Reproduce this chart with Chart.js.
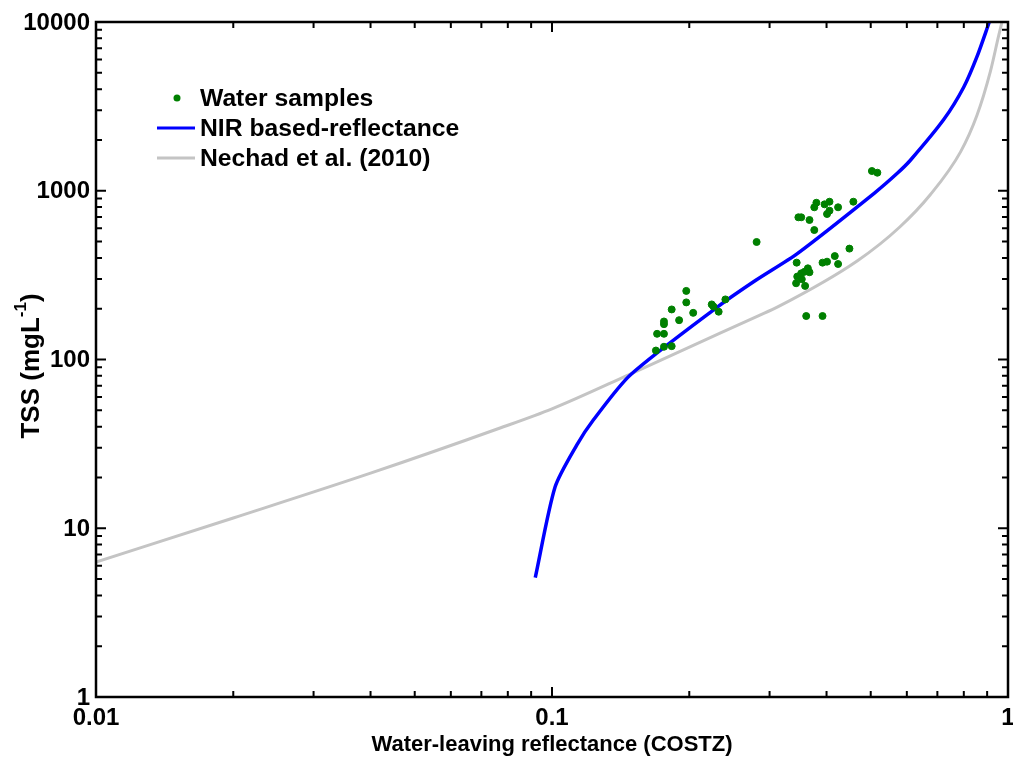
<!DOCTYPE html>
<html>
<head>
<meta charset="utf-8">
<script src="https://cdn.jsdelivr.net/npm/chart.js@4.4.1/dist/chart.umd.min.js"></script>
<style>
  body { margin: 0; background: #fff; }
  #wrap { width: 1013px; height: 765px; }
</style>
</head>
<body>
<div id="wrap"><canvas id="tssChart" width="1013" height="765"></canvas></div>
<script>
// tick labels
const xTicks = [0.01, 0.1, 1];
const xTickLabels = ["0.01", "0.1", "1"];
const yTicks = [1, 10, 100, 1000, 10000];
const yTickLabels = ["1", "10", "100", "1000", "10000"];

// water samples
const sampleX = [0.197, 0.197, 0.183, 0.204, 0.190, 0.176, 0.176, 0.224, 0.226, 0.240,
  0.232, 0.170, 0.176, 0.169, 0.176, 0.183, 0.281, 0.344, 0.449, 0.417,
  0.392, 0.401, 0.424, 0.364, 0.358, 0.352, 0.367, 0.345, 0.353, 0.343,
  0.359, 0.361, 0.392, 0.503, 0.517, 0.458, 0.424, 0.406, 0.396, 0.380,
  0.376, 0.406, 0.401, 0.347, 0.352, 0.367, 0.376];
const sampleY = [255, 218, 198, 189, 171, 168, 162, 212, 206, 227,
  192, 142, 142, 113, 119, 120, 497, 375, 454, 410,
  375, 380, 368, 347, 331, 324, 329, 310, 299, 283,
  273, 181, 181, 1309, 1279, 861, 798, 861, 831, 849,
  798, 762, 728, 696, 696, 671, 585];

// NIR based-reflectance curve
const nirX = [0.0919, 0.1016, 0.1133, 0.1232, 0.1485, 0.2312, 0.2804, 0.3457,
  0.5087, 0.5717, 0.6115, 0.7235, 0.800, 0.855, 0.910];
const nirY = [5.1, 17.6, 31.1, 43.8, 81, 206, 296, 426,
  966, 1269, 1521, 2650, 4120, 6230, 10000];

// Nechad et al. (2010) curve
const nechadX = [0.01, 0.02, 0.04, 0.0764, 0.1, 0.1485, 0.2826, 0.3126,
  0.4677, 0.579, 0.676, 0.787, 0.855, 0.915, 0.954, 0.970];
const nechadY = [6.3, 11.5, 21.2, 39, 51, 82, 181, 205,
  385, 610, 950, 1700, 2800, 5100, 8300, 10000];

const toPoints = (xs, ys) => xs.map((v, i) => ({ x: v, y: ys[i] }));

const BLUE = "#0000ff";
const GRAY = "#c4c4c4";
const GREEN = "#008000";
const FONT = '"Liberation Sans", Arial, sans-serif';

const boxAxes = {
  id: "boxAxes",
  afterDraw(chart) {
    const { ctx, chartArea: a, scales } = chart;
    const sx = scales.x, sy = scales.y;
    ctx.save();
    ctx.strokeStyle = "#000";
    ctx.lineWidth = 2.5;
    ctx.strokeRect(a.left, a.top, a.right - a.left, a.bottom - a.top);

    // inward ticks on all four sides
    ctx.lineWidth = 2;
    ctx.beginPath();
    for (let d = 0.01; d < 1; d *= 10) {
      for (let k = 1; k <= 9; k++) {
        const px = sx.getPixelForValue(d * k);
        const len = k === 1 ? 10 : 6;
        ctx.moveTo(px, a.bottom); ctx.lineTo(px, a.bottom - len);
        ctx.moveTo(px, a.top); ctx.lineTo(px, a.top + len);
      }
    }
    for (let d = 1; d < 10000; d *= 10) {
      for (let k = 1; k <= 9; k++) {
        const py = sy.getPixelForValue(d * k);
        const len = k === 1 ? 10 : 6;
        ctx.moveTo(a.left, py); ctx.lineTo(a.left + len, py);
        ctx.moveTo(a.right, py); ctx.lineTo(a.right - len, py);
      }
    }
    ctx.stroke();

    // tick labels
    ctx.fillStyle = "#000";
    ctx.font = "bold 24px " + FONT;
    ctx.textAlign = "center";
    ctx.textBaseline = "middle";
    xTicks.forEach((v, i) => {
      ctx.fillText(xTickLabels[i], sx.getPixelForValue(v), a.bottom + 21);
    });
    ctx.textAlign = "right";
    yTicks.forEach((v, i) => {
      ctx.fillText(yTickLabels[i], a.left - 6, sy.getPixelForValue(v) + 1);
    });

    // axis titles
    ctx.font = "bold 22px " + FONT;
    ctx.textAlign = "center";
    ctx.fillText("Water-leaving reflectance (COSTZ)", (a.left + a.right) / 2, a.bottom + 48);

    ctx.save();
    ctx.translate(32, 366);
    ctx.rotate(-Math.PI / 2);
    const main = "TSS (mgL", sup = "-1", end = ")";
    ctx.font = "bold 26px " + FONT;
    const w1 = ctx.measureText(main).width, w3 = ctx.measureText(end).width;
    ctx.font = "bold 17px " + FONT;
    const w2 = ctx.measureText(sup).width;
    const cx = -(w1 + w2 + w3) / 2;
    ctx.textAlign = "left";
    ctx.font = "bold 26px " + FONT;
    ctx.fillText(main, cx, 0);
    ctx.font = "bold 17px " + FONT;
    ctx.fillText(sup, cx + w1, -11);
    ctx.font = "bold 26px " + FONT;
    ctx.fillText(end, cx + w1 + w2, 0);
    ctx.restore();

    // legend
    ctx.font = "bold 24.7px " + FONT;
    ctx.textAlign = "left";
    ctx.fillStyle = GREEN;
    ctx.beginPath();
    ctx.arc(177, 98, 3.5, 0, Math.PI * 2);
    ctx.fill();
    ctx.lineWidth = 3;
    ctx.strokeStyle = BLUE;
    ctx.beginPath(); ctx.moveTo(157, 128); ctx.lineTo(195, 128); ctx.stroke();
    ctx.strokeStyle = GRAY;
    ctx.beginPath(); ctx.moveTo(157, 158); ctx.lineTo(195, 158); ctx.stroke();
    ctx.fillStyle = "#000";
    ctx.fillText("Water samples", 200, 99);
    ctx.fillText("NIR based-reflectance", 200, 129);
    ctx.fillText("Nechad et al. (2010)", 200, 159);
    ctx.restore();
  }
};

new Chart(document.getElementById("tssChart"), {
  type: "scatter",
  data: {
    datasets: [
      {
        label: "Water samples",
        data: toPoints(sampleX, sampleY),
        backgroundColor: GREEN,
        borderColor: GREEN,
        pointRadius: 3.5,
        order: 0,
      },
      {
        label: "NIR based-reflectance",
        data: toPoints(nirX, nirY),
        showLine: true,
        borderColor: BLUE,
        borderWidth: 3.5,
        pointRadius: 0,
        tension: 0.25,
        order: 1,
      },
      {
        label: "Nechad et al. (2010)",
        data: toPoints(nechadX, nechadY),
        showLine: true,
        borderColor: GRAY,
        borderWidth: 3,
        pointRadius: 0,
        cubicInterpolationMode: "monotone",
        order: 2,
      },
    ],
  },
  options: {
    responsive: false,
    animation: false,
    layout: { padding: { left: 96, right: 2, top: 22, bottom: 68 } },
    plugins: { legend: { display: false }, tooltip: { enabled: false } },
    scales: {
      x: { type: "logarithmic", min: 0.01, max: 1, display: false },
      y: { type: "logarithmic", min: 1, max: 10000, display: false },
    },
  },
  plugins: [boxAxes],
});
</script>
</body>
</html>
